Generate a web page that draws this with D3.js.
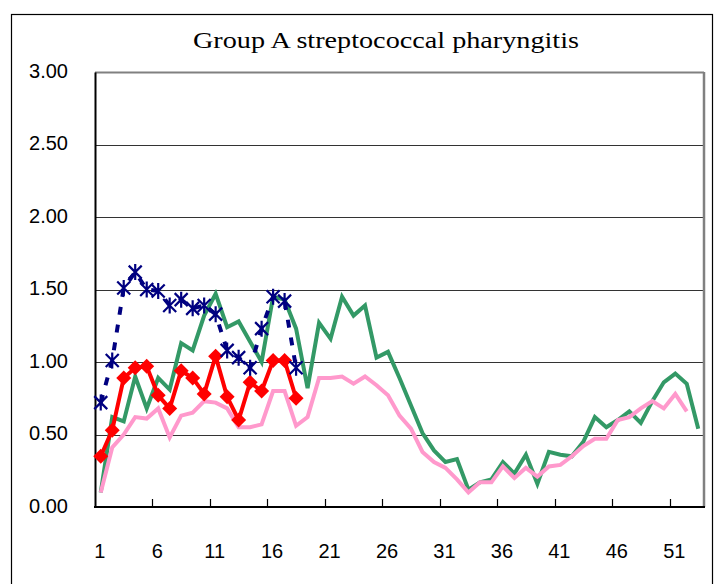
<!DOCTYPE html>
<html>
<head>
<meta charset="utf-8">
<script src="https://cdn.jsdelivr.net/npm/d3@7"></script>
<style>
    body { margin: 0; background: #fff; }
    #canvas { width: 720px; height: 584px; }
</style>
</head>
<body>
<div id="canvas"></div>
<script>
var title = 'Group A streptococcal pharyngitis';

var weeks = d3.range(1, 54);
var weekLabels = [1, 6, 11, 16, 21, 26, 31, 36, 41, 46, 51];
var yTicks = [0, 0.5, 1.0, 1.5, 2.0, 2.5, 3.0];

/* Значения по неделям */
var greenSeries = [0.10, 0.62, 0.59, 0.90, 0.68, 0.89, 0.81, 1.13, 1.08, 1.32,
                   1.47, 1.24, 1.28, 1.14, 1.00, 1.45, 1.43, 1.23, 0.82, 1.27,
                   1.16, 1.45, 1.32, 1.39, 1.03, 1.07, 0.89, 0.70, 0.51, 0.39,
                   0.31, 0.33, 0.12, 0.17, 0.19, 0.31, 0.23, 0.36, 0.16, 0.38,
                   0.36, 0.35, 0.45, 0.62, 0.55, 0.60, 0.66, 0.58, 0.73, 0.86,
                   0.92, 0.85, 0.54];

var pinkSeries = [0.10, 0.41, 0.50, 0.62, 0.61, 0.68, 0.48, 0.63, 0.65, 0.73,
                  0.72, 0.68, 0.55, 0.55, 0.57, 0.80, 0.80, 0.56, 0.62, 0.89,
                  0.89, 0.90, 0.85, 0.90, 0.84, 0.77, 0.63, 0.54, 0.38, 0.31,
                  0.27, 0.19, 0.10, 0.17, 0.17, 0.28, 0.20, 0.27, 0.21, 0.28,
                  0.29, 0.35, 0.42, 0.47, 0.47, 0.60, 0.62, 0.68, 0.73, 0.68,
                  0.78, 0.66];

var redSeries = [0.35, 0.53, 0.89, 0.96, 0.97, 0.77, 0.68, 0.94, 0.89, 0.78,
                 1.04, 0.76, 0.60, 0.86, 0.80, 1.01, 1.01, 0.75];

var navySeries = [0.72, 1.01, 1.51, 1.62, 1.50, 1.49, 1.39, 1.43, 1.37, 1.39,
                  1.33, 1.08, 1.03, 0.96, 1.23, 1.45, 1.42, 0.96];

function init()
{
    var wrapper = d3.select('#canvas');
    var width = 720;
    var height = 584;

    var svg = wrapper.append('svg');
    svg.attr('width', width)
       .attr('height', height);

    /* Рамка всей диаграммы */
    svg.append('rect')
       .attr('x', 11.5)
       .attr('y', 14.5)
       .attr('width', 701)
       .attr('height', 600)
       .attr('fill', '#fff')
       .attr('stroke', '#000')
       .attr('stroke-width', 1.2);

    var plot = {'left': 95, 'right': 704, 'top': 72, 'bottom': 507};

    var x = d3.scaleBand()
              .domain(weeks)
              .range([plot.left, plot.right]);

    var y = d3.scaleLinear()
              .domain([0, 3])
              .range([plot.bottom, plot.top]);

    svg.append('text')
       .attr('x', 386)
       .attr('y', 48)
       .attr('text-anchor', 'middle')
       .attr('textLength', 386)
       .attr('lengthAdjust', 'spacingAndGlyphs')
       .style('font-family', '"Liberation Serif", "DejaVu Serif", serif')
       .style('font-size', '24px')
       .text(title);

    /* Сетка */
    var grid = svg.append('g');
    grid.selectAll('line')
        .data(yTicks.slice(1))
        .enter()
            .append('line')
            .attr('x1', plot.left)
            .attr('x2', plot.right)
            .attr('y1', function(d) { return Math.round(y(d)) + 0.5; })
            .attr('y2', function(d) { return Math.round(y(d)) + 0.5; })
            .attr('stroke', function(d) { return d == 3 ? '#808080' : '#333'; })
            .attr('stroke-width', function(d) { return d == 3 ? 2 : 1; });

    /* Правая граница области построения */
    svg.append('line')
       .attr('x1', plot.right)
       .attr('x2', plot.right)
       .attr('y1', plot.top)
       .attr('y2', plot.bottom)
       .attr('stroke', '#808080')
       .attr('stroke-width', 2.5);

    var yAxis = d3.axisLeft(y)
                  .tickValues(yTicks)
                  .tickFormat(d3.format('.2f'))
                  .tickSize(0)
                  .tickPadding(27);

    svg.append('g')
       .attr('transform', 'translate(' + plot.left + ',0)')
       .call(yAxis)
       .call(function(g) {
           g.select('.domain')
            .attr('stroke', '#000')
            .attr('stroke-width', 2);
           g.selectAll('text')
            .attr('dy', '0.25em')
            .style('font-family', '"Liberation Sans", Arial, sans-serif')
            .style('font-size', '20px')
            .attr('fill', '#000');
       });

    /* Ось X: деления между категориями, подписи по центру */
    var boundaries = weeks.filter(function(w) { return w > 1 && (w - 1) % 5 == 0; });

    var xAxis = svg.append('g');
    xAxis.append('line')
         .attr('x1', plot.left - 1)
         .attr('x2', plot.right + 1)
         .attr('y1', plot.bottom)
         .attr('y2', plot.bottom)
         .attr('stroke', '#000')
         .attr('stroke-width', 2);

    xAxis.selectAll('.tick')
         .data(boundaries)
         .enter()
             .append('line')
             .attr('class', 'tick')
             .attr('x1', function(d) { return Math.round(x(d)) + 0.5; })
             .attr('x2', function(d) { return Math.round(x(d)) + 0.5; })
             .attr('y1', plot.bottom)
             .attr('y2', plot.bottom - 8)
             .attr('stroke', '#000')
             .attr('stroke-width', 1.2);

    xAxis.selectAll('.label')
         .data(weekLabels)
         .enter()
             .append('text')
             .attr('class', 'label')
             .attr('x', function(d) { return x(d) + x.bandwidth() / 2 - 1; })
             .attr('y', 558)
             .attr('text-anchor', 'middle')
             .style('font-family', '"Liberation Sans", Arial, sans-serif')
             .style('font-size', '20px')
             .text(function(d) { return d; });

    var cx = function(i) { return x(weeks[i]) + x.bandwidth() / 2; };

    var line = d3.line()
                 .x(function(d, i) { return cx(i); })
                 .y(function(d) { return y(d); });

    var series = [
        {'values': greenSeries, 'color': '#339966', 'width': 4},
        {'values': pinkSeries, 'color': '#FF99CC', 'width': 4},
        {'values': redSeries, 'color': '#FF0000', 'width': 4},
        {'values': navySeries, 'color': '#000080', 'width': 4, 'dash': '8,10'}
    ];

    var lines = svg.append('g');
    series.forEach(function(s) {
        lines.append('path')
             .attr('d', line(s.values))
             .attr('fill', 'none')
             .attr('stroke', s.color)
             .attr('stroke-width', s.width)
             .attr('stroke-linejoin', 'miter')
             .attr('stroke-dasharray', s.dash || null);
    });

    /* Ромбы */
    var diamond = 'M 0 -7.5 L 7.5 0 L 0 7.5 L -7.5 0 z';
    lines.selectAll('.diamond')
         .data(redSeries)
         .enter()
             .append('path')
             .attr('class', 'diamond')
             .attr('d', diamond)
             .attr('transform', function(d, i) {
                 return 'translate(' + cx(i) + ',' + y(d) + ')';
             })
             .attr('fill', '#FF0000');

    /* Звёздочки */
    var star = 'M -6.5 -6.5 L 6.5 6.5 M -6.5 6.5 L 6.5 -6.5 M 0 -8 L 0 8';
    lines.selectAll('.star')
         .data(navySeries)
         .enter()
             .append('path')
             .attr('class', 'star')
             .attr('d', star)
             .attr('transform', function(d, i) {
                 return 'translate(' + cx(i) + ',' + y(d) + ')';
             })
             .attr('fill', 'none')
             .attr('stroke', '#000080')
             .attr('stroke-width', 2.2);
}

init();
</script>
</body>
</html>
